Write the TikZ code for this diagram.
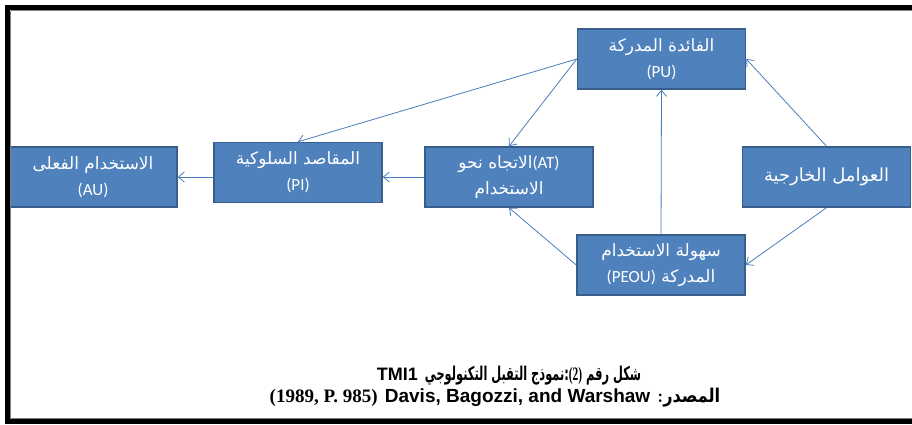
\documentclass[tikz,border=0pt]{standalone}
\usepackage{fontspec}
\usetikzlibrary{arrows.meta}
\TeXXeTstate=1
\newfontfamily\arabicfont[Script=Arabic]{DejaVu Sans}
\newfontfamily\boxlatin{Carlito}
\newfontfamily\capsans{Liberation Sans}
\newfontfamily\capserif{Liberation Serif}
\definecolor{boxblue}{HTML}{4F81BD}
\definecolor{boxedge}{HTML}{385D8A}
\definecolor{linkblue}{HTML}{4A7EBB}
\newcommand{\capar}[2][0.75]{\scalebox{#1}[1]{\arabicfont\beginR #2\endR}}

\begin{document}
\begin{tikzpicture}[x = 1pt, y = -1pt]
\tikzstyle{BoxStyle}=[rectangle, fill = boxblue, draw = boxedge,
                      line width = 1.5pt, text = white,
                      minimum width = 168pt, minimum height = 60pt,
                      inner sep = 2pt, align = center,
                      font = \arabicfont\fontsize{17}{26}\selectfont]
\tikzstyle{LinkStyle}=[draw = linkblue, line width = 0.8pt,
                       -{Straight Barb[length = 6pt, width = 10pt]}]
\tikzstyle{CapStyle}=[inner sep = 0pt, font = \bfseries\fontsize{19}{22}\selectfont]
\useasboundingbox (0,0) rectangle (912,424);
\fill[white] (0,0) rectangle (912,424);
% boxes
\node[BoxStyle] (pu)   at (661.5, 59)  {\beginR الفائدة المدركة\endR\\{\boxlatin (PU)}};
\node[BoxStyle] (peou) at (661, 265)   {\beginR سهولة الاستخدام\endR\\\beginR المدركة \beginL{\boxlatin (PEOU)}\endL\endR};
\node[BoxStyle] (at)   at (509, 177)   {\beginR\beginL{\boxlatin (AT)}\endL الاتجاه نحو\endR\\\beginR الاستخدام\endR};
\node[BoxStyle] (pi)   at (298, 172.5) {\beginR المقاصد السلوكية\endR\\{\boxlatin (PI)}};
\node[BoxStyle] (au)   at (93, 177)    {\beginR الاستخدام الفعلى\endR\\{\boxlatin (AU)}};
\node[BoxStyle, font = \arabicfont\fontsize{18}{26}\selectfont] (ext) at (826.5, 177) {\beginR العوامل الخارجية\endR};
% links
\draw[LinkStyle] (pu.west) -- (pi.north);
\draw[LinkStyle] (pu.west) -- (at.north);
\draw[LinkStyle] (ext.north) -- (pu.east);
\draw[LinkStyle] (ext.south) -- (peou.east);
\draw[LinkStyle] (peou.west) -- (at.south);
\draw[LinkStyle] (peou.north) -- (pu.south);
\draw[LinkStyle] (at.west) -- (at.west -| pi.east);
\draw[LinkStyle] (pi.west |- au.east) -- (au.east);
% caption
\node[CapStyle] (cap1) at (509, 376)
  {{\capsans\fontsize{18}{22}\selectfont TMI1} \capar[0.6]{شكل رقم \beginL{\capserif(2)}\endL:نموذج التقبل التكنولوجي}};
\node[CapStyle] (cap2) at (495, 398)
  {{\capserif(1989, P. 985)} {\capsans Davis, Bagozzi, and Warshaw} :\capar[0.85]{المصدر}};
% frame
\draw[gray, line width = 1pt] (10.5, 10.5) -- (10.5, 418.5) -- (920, 418.5);
\draw[gray, line width = 1pt] (10.5, 10.5) -- (920, 10.5);
\draw[line width = 5pt] (7.5, 7.5) -- (7.5, 421.5) -- (920, 421.5);
\draw[line width = 5pt] (5, 7.5) -- (920, 7.5);
\end{tikzpicture}
\end{document}
